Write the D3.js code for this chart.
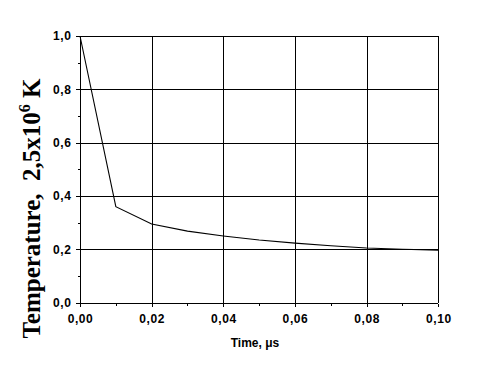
<!DOCTYPE html>
<html>
<head>
<meta charset="utf-8">
<script src="https://cdn.jsdelivr.net/npm/d3@7"></script>
<style>
html,body{margin:0;padding:0;background:#fff;}
svg{display:block;}
</style>
</head>
<body>
<script>
const timeValues = [0, 0.01, 0.02, 0.03, 0.04, 0.05, 0.06, 0.07, 0.08, 0.09, 0.10];
const temperatureValues = [1.0, 0.36, 0.295, 0.268, 0.25, 0.235, 0.223, 0.213, 0.205, 0.2, 0.197];
const xTickValues = [0, 0.02, 0.04, 0.06, 0.08, 0.10];
const xTickLabels = ["0,00", "0,02", "0,04", "0,06", "0,08", "0,10"];
const yTickValues = [0, 0.2, 0.4, 0.6, 0.8, 1.0];
const yTickLabels = ["0,0", "0,2", "0,4", "0,6", "0,8", "1,0"];
const xMinorTicks = [0.01, 0.03, 0.05, 0.07, 0.09];
const yMinorTicks = [0.1, 0.3, 0.5, 0.7, 0.9];

(function () {
const W = 480, H = 379;
const pLeft = 80, pRight = 438.3, pTop = 36, pBottom = 302.6;

const svg = d3.select("body").append("svg").attr("width", W).attr("height", H);
svg.append("rect").attr("width", W).attr("height", H).attr("fill", "#fff");

const x = d3.scaleLinear().domain([0, 0.10]).range([pLeft, pRight]);
const y = d3.scaleLinear().domain([0, 1.0]).range([pBottom, pTop]);

// grid
const grid = svg.append("g").attr("stroke", "#000").attr("stroke-width", 1).attr("shape-rendering", "crispEdges");
xTickValues.slice(1).forEach(v => {
  grid.append("line").attr("x1", Math.round(x(v)) + 0.5).attr("x2", Math.round(x(v)) + 0.5)
    .attr("y1", pTop).attr("y2", pBottom);
});
yTickValues.slice(1).forEach(v => {
  grid.append("line").attr("y1", Math.round(y(v)) + 0.5).attr("y2", Math.round(y(v)) + 0.5)
    .attr("x1", pLeft).attr("x2", pRight);
});

const font = "Arial, 'Liberation Sans', sans-serif";

// x axis
const xAxis = d3.axisBottom(x).tickValues(xTickValues)
  .tickFormat((d, i) => xTickLabels[i]).tickSize(3).tickPadding(8);
const gx = svg.append("g").attr("transform", `translate(0,${Math.round(pBottom) + 0.5})`).call(xAxis);
const gxm = svg.append("g").attr("transform", `translate(0,${Math.round(pBottom) + 0.5})`)
  .call(d3.axisBottom(x).tickValues(xMinorTicks).tickSize(2).tickFormat(""));
gxm.select(".domain").remove();

// y axis
const yAxis = d3.axisLeft(y).tickValues(yTickValues)
  .tickFormat((d, i) => yTickLabels[i]).tickSize(5).tickPadding(4);
const gy = svg.append("g").attr("transform", `translate(${Math.round(pLeft) + 0.5},0)`).call(yAxis);
const gym = svg.append("g").attr("transform", `translate(${Math.round(pLeft) + 0.5},0)`)
  .call(d3.axisLeft(y).tickValues(yMinorTicks).tickSize(3).tickFormat(""));
gym.select(".domain").remove();

[gx, gy, gxm, gym].forEach(g => {
  g.selectAll("path,line").attr("stroke", "#000").attr("shape-rendering", "crispEdges");
  g.selectAll("text").attr("fill", "#000").attr("font-family", font)
    .attr("font-weight", "bold").attr("font-size", 12).attr("letter-spacing", 0.6);
});
gx.select(".domain").attr("d", `M${pLeft},0H${pRight}`);
gy.select(".domain").attr("d", `M0,${pBottom}V${pTop}`);

// curve
const line = d3.line().x((d, i) => x(timeValues[i])).y(d => y(d));
svg.append("path").datum(temperatureValues).attr("d", line)
  .attr("fill", "none").attr("stroke", "#000").attr("stroke-width", 1.1);

// x title
svg.append("text").attr("x", 255).attr("y", 347).attr("text-anchor", "middle")
  .attr("font-family", font).attr("font-weight", "bold").attr("font-size", 12)
  .text("Time, μs");

// y title
const yt = svg.append("text").attr("transform", "translate(40,208.5) rotate(-90)")
  .attr("text-anchor", "middle").style("white-space", "pre")
  .attr("font-family", "'Liberation Serif', 'Times New Roman', serif")
  .attr("font-weight", "bold").attr("font-size", 25);
yt.append("tspan").text("Temperature,  2,5x10");
yt.append("tspan").attr("font-size", 16).attr("dy", -10).text("6");
yt.append("tspan").attr("dy", 10).text(" K");
})();
</script>
</body>
</html>
